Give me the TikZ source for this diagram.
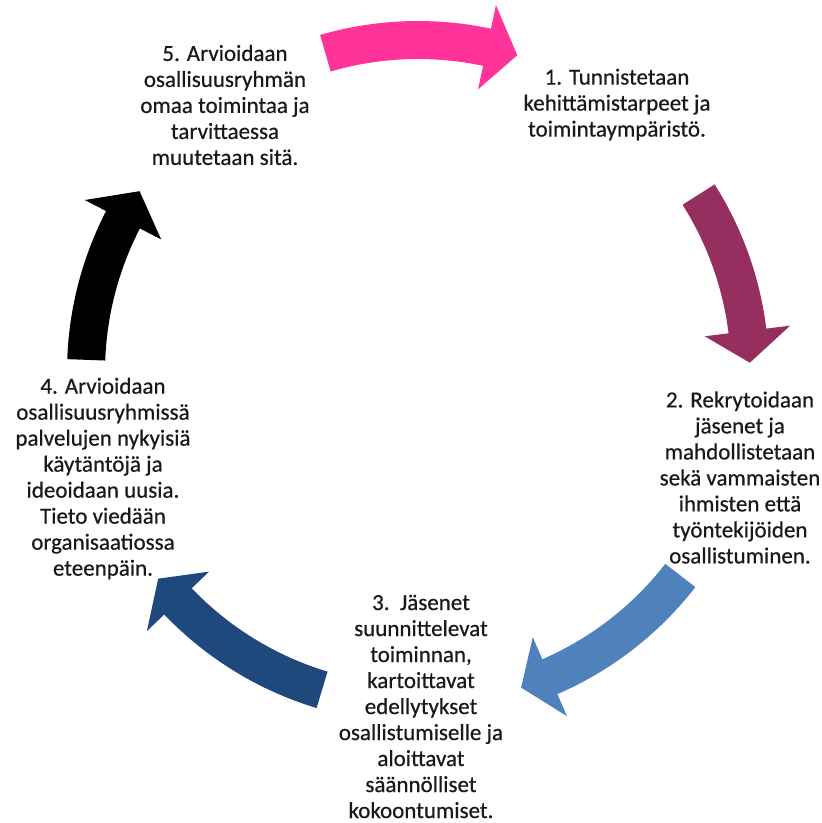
\documentclass[tikz,border=0pt]{standalone}
\usepackage{fontspec}
\setmainfont{Carlito}
\newfontfamily\stepfont{Carlito}[FakeBold=0.5]
\definecolor{cpink}{RGB}{255,51,153}
\definecolor{cplum}{RGB}{150,46,96}
\definecolor{clblue}{RGB}{79,129,189}
\definecolor{cdblue}{RGB}{31,73,125}
\definecolor{ctext}{RGB}{25,25,25}
\newcommand\cycarrow[4]{%
  \fill[#1] (#2:351) arc[start angle=#2, end angle=#3, radius=351pt]
    -- (#3:375) -- (#4:332) -- (#3:289) -- (#3:313)
    arc[start angle=#3, end angle=#2, radius=313pt] -- cycle;}
\begin{document}
\begin{tikzpicture}[x=1pt,y=1pt,
  steptext/.style={align=center, inner sep=0pt, text=ctext,
    font=\stepfont\fontsize{23}{26}\selectfont}]
\useasboundingbox (0,0) rectangle (822,-823);
\fill[white] (0,0) rectangle (822,-823);
\begin{scope}[shift={(418,-372)}]
  \cycarrow{cpink}{106.2}{78}{72.6}
  \cycarrow{cplum}{32.3}{7.1}{1.6}
  \cycarrow{clblue}{-37.8}{-66.6}{-71.9}
  \cycarrow{cdblue}{-106.8}{-136.3}{-141.5}
  \cycarrow{black}{177.9}{152.7}{147}
\end{scope}
\node[steptext] (t1) at (617,-104.5) {1. Tunnistetaan\\kehittämistarpeet ja\\toimintaympäristö.};
\node[steptext] (t2) at (740,-477.5) {2. Rekrytoidaan\\jäsenet ja\\mahdollistetaan\\sekä vammaisten\\ihmisten että\\työntekijöiden\\osallistuminen.};
\node[steptext] (t3) at (421,-706.5) {3.\ \ Jäsenet\\suunnittelevat\\toiminnan,\\kartoittavat\\edellytykset\\osallistumiselle ja\\aloittavat\\säännölliset\\kokoontumiset.};
\node[steptext] (t4) at (103,-478.5) {4. Arvioidaan\\osallisuusryhmissä\\palvelujen nykyisiä\\käytäntöjä ja\\ideoidaan uusia.\\Tieto viedään\\organisaatiossa\\eteenpäin.};
\node[steptext] (t5) at (225,-105) {5. Arvioidaan\\osallisuusryhmän\\omaa toimintaa ja\\tarvittaessa\\muutetaan sitä.};
\end{tikzpicture}
\end{document}
